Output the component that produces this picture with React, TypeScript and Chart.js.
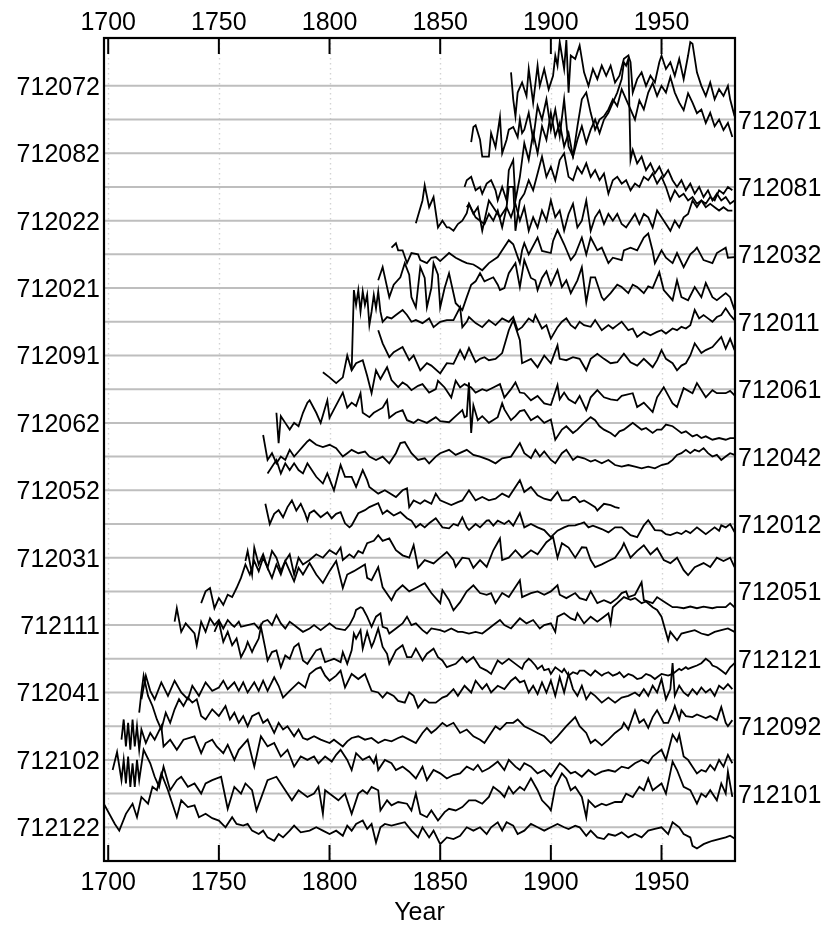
import { useEffect, useRef } from "react";
import { Chart, registerables } from "chart.js";
Chart.register(...registerables);

// Series ids, bottom (level 1) to top (level 23)
const seriesIds = ["712122","712101","712102","712092","712041","712121","712111","712051","712031","712012","712052","712042","712062","712061","712091","712011","712021","712032","712022","712081","712082","712071","712072"];
const yearTicks = [1700, 1750, 1800, 1850, 1900, 1950];
const yearRange = [1698.1, 1983.2];
const levelRange = [0, 24.42];

// [year, scaled ring width]
const s712122: number[][] = [[1698,0.7],[1703,0.1],[1705,-0.1],[1708,0.4],[1711,0.7],[1713,0.3],[1715,0.9],[1718,0.7],[1720,1.2],[1722,1.1],[1724,1.6],[1727,1.1],[1729,0.7],[1731,0.3],[1733,0.8],[1736,0.6],[1739,0.65],[1741,0.3],[1744,0.4],[1747,0.27],[1750,0.2],[1753,0.0],[1756,0.3],[1758,0.1],[1761,0.05],[1763,0.1],[1765,-0.1],[1768,-0.2],[1770,-0.1],[1772,-0.3],[1775,-0.4],[1777,-0.2],[1779,-0.3],[1782,-0.1],[1784,0.05],[1787,-0.15],[1791,-0.1],[1794,0.0],[1797,-0.1],[1800,-0.2],[1803,-0.1],[1806,-0.25],[1808,0.05],[1810,-0.1],[1812,0.1],[1815,0.2],[1817,-0.05],[1819,0.1],[1821,-0.45],[1823,0.0],[1825,0.1],[1828,0.05],[1831,0.1],[1834,0.15],[1837,-0.1],[1840,-0.3],[1842,0.0],[1845,-0.3],[1847,-0.1],[1850,-0.5],[1853,-0.3],[1856,-0.35],[1859,-0.25],[1862,0.0],[1865,-0.1],[1868,0.0],[1871,-0.2],[1873,0.0],[1876,0.15],[1878,-0.1],[1880,0.15],[1883,0.05],[1885,-0.2],[1888,-0.1],[1891,0.1],[1894,0.0],[1897,-0.1],[1900,0.0],[1903,0.1],[1906,0.0],[1908,-0.05],[1911,0.05],[1913,0.0],[1916,-0.25],[1918,-0.1],[1921,-0.3],[1924,-0.35],[1926,-0.2],[1929,-0.25],[1932,-0.15],[1935,-0.3],[1938,-0.2],[1941,-0.3],[1944,-0.1],[1947,-0.05],[1950,0.0],[1953,-0.2],[1955,0.15],[1958,0.0],[1960,-0.2],[1963,-0.3],[1964,-0.55],[1966,-0.63],[1969,-0.5],[1971,-0.45],[1973,-0.4],[1976,-0.35],[1979,-0.3],[1981,-0.25],[1983,-0.33]];
const s712101: number[][] = [[1702,0.7],[1704,1.23],[1706,0.4],[1707,1.0],[1708,0.3],[1709,1.1],[1710,0.2],[1711,0.9],[1712,0.2],[1713,1.0],[1714,0.4],[1716,1.3],[1719,0.9],[1721,0.5],[1723,0.2],[1725,0.8],[1728,0.1],[1731,0.4],[1733,0.5],[1736,0.2],[1739,0.3],[1742,0.0],[1744,0.3],[1747,0.4],[1751,0.5],[1754,-0.45],[1757,0.2],[1760,0.0],[1762,0.3],[1765,0.1],[1767,-0.5],[1772,0.4],[1776,0.5],[1780,0.1],[1783,-0.2],[1786,0.1],[1790,-0.1],[1793,0.0],[1795,0.2],[1797,-0.6],[1798,0.1],[1801,-0.05],[1804,-0.2],[1807,0.0],[1810,-0.6],[1813,0.0],[1815,0.1],[1817,0.0],[1819,0.2],[1822,0.1],[1823,-0.5],[1826,-0.2],[1828,-0.35],[1831,-0.25],[1835,-0.3],[1837,-0.5],[1839,0.0],[1841,-0.6],[1844,-0.7],[1846,-0.5],[1849,-0.8],[1852,-0.55],[1854,-0.45],[1857,-0.5],[1860,-0.4],[1863,-0.2],[1866,-0.2],[1869,-0.3],[1872,-0.1],[1874,0.2],[1877,0.05],[1879,-0.1],[1881,0.2],[1883,0.0],[1886,0.2],[1888,0.1],[1891,0.45],[1894,0.1],[1896,-0.2],[1899,-0.4],[1900,-0.5],[1902,0.2],[1905,0.6],[1907,0.45],[1909,0.1],[1911,0.2],[1914,-0.1],[1916,-0.7],[1917,-0.2],[1920,-0.4],[1923,-0.3],[1925,-0.35],[1929,-0.25],[1932,-0.25],[1934,0.0],[1937,-0.1],[1940,0.2],[1942,0.1],[1944,0.45],[1946,0.1],[1950,0.3],[1952,0.0],[1955,0.95],[1957,0.7],[1960,0.2],[1963,0.1],[1966,-0.3],[1968,0.0],[1970,-0.1],[1972,0.1],[1975,-0.2],[1977,0.3],[1979,0.0],[1980,0.65],[1982,-0.1]];
const s712102: number[][] = [[1706,0.6],[1707,1.2],[1708,0.4],[1709,1.1],[1710,0.3],[1711,1.2],[1712,0.4],[1713,1.0],[1714,0.3],[1715,0.9],[1717,0.5],[1719,0.8],[1721,0.6],[1724,1.0],[1725,0.4],[1728,0.6],[1731,0.3],[1734,0.6],[1739,0.7],[1742,0.2],[1744,0.5],[1747,0.6],[1749,0.4],[1752,0.2],[1754,0.45],[1757,0.0],[1759,0.3],[1763,0.6],[1766,-0.2],[1769,0.7],[1772,0.4],[1775,0.5],[1778,0.1],[1781,0.3],[1784,-0.2],[1787,0.1],[1790,0.0],[1793,0.1],[1795,-0.1],[1798,0.1],[1801,-0.05],[1803,0.15],[1805,0.3],[1808,0.0],[1810,-0.3],[1812,0.2],[1815,0.0],[1818,0.1],[1820,-0.1],[1821,0.1],[1822,-0.3],[1825,0.0],[1828,-0.1],[1830,-0.3],[1833,-0.2],[1836,-0.35],[1839,-0.55],[1842,-0.2],[1844,-0.6],[1847,-0.3],[1850,-0.4],[1853,-0.55],[1856,-0.45],[1859,-0.4],[1862,-0.2],[1865,-0.3],[1867,-0.15],[1869,-0.35],[1872,-0.25],[1874,-0.15],[1876,-0.05],[1879,-0.3],[1881,0.0],[1884,-0.2],[1886,-0.3],[1888,-0.1],[1891,-0.2],[1894,-0.4],[1897,-0.3],[1900,-0.5],[1902,-0.3],[1904,-0.1],[1906,-0.2],[1909,-0.4],[1911,-0.35],[1914,-0.5],[1917,-0.3],[1920,-0.45],[1923,-0.35],[1926,-0.3],[1929,-0.35],[1932,-0.2],[1935,-0.25],[1938,-0.1],[1941,0.0],[1944,-0.1],[1946,0.1],[1948,0.2],[1950,0.3],[1952,0.0],[1954,0.5],[1955,0.75],[1957,0.55],[1958,0.75],[1960,0.1],[1962,0.0],[1964,-0.2],[1966,-0.4],[1968,-0.3],[1970,-0.35],[1972,-0.15],[1974,-0.3],[1976,0.0],[1978,-0.2],[1980,0.15],[1982,-0.1]];
const s712092: number[][] = [[1714,0.4],[1715,1.0],[1716,1.5],[1718,0.9],[1720,0.6],[1722,0.2],[1724,-0.1],[1726,0.4],[1728,0.1],[1730,0.5],[1732,0.8],[1734,0.6],[1736,0.85],[1738,0.7],[1740,0.8],[1742,0.3],[1744,0.2],[1747,0.5],[1750,0.3],[1753,0.6],[1755,0.2],[1757,0.4],[1759,0.1],[1761,0.3],[1763,0.0],[1765,0.3],[1768,0.4],[1770,0.1],[1772,0.2],[1775,-0.2],[1777,0.1],[1779,-0.1],[1781,0.0],[1784,-0.3],[1786,-0.1],[1788,-0.35],[1790,-0.4],[1793,-0.3],[1796,-0.4],[1800,-0.5],[1802,-0.4],[1806,-0.6],[1808,-0.45],[1810,-0.35],[1813,-0.3],[1816,-0.4],[1819,-0.35],[1822,-0.5],[1825,-0.4],[1828,-0.45],[1831,-0.35],[1833,-0.3],[1836,-0.4],[1839,-0.5],[1842,-0.2],[1844,-0.05],[1846,-0.2],[1848,-0.1],[1851,0.1],[1853,0.0],[1856,0.1],[1859,-0.2],[1862,-0.1],[1865,-0.3],[1868,-0.4],[1870,-0.5],[1872,-0.3],[1875,0.0],[1877,-0.1],[1880,0.1],[1883,0.1],[1885,0.2],[1888,0.0],[1891,-0.1],[1894,-0.2],[1897,-0.3],[1900,-0.5],[1903,-0.3],[1907,0.0],[1911,0.27],[1913,0.0],[1916,-0.2],[1918,-0.5],[1920,-0.4],[1923,-0.57],[1926,-0.4],[1929,-0.2],[1932,-0.05],[1933,0.1],[1935,-0.1],[1938,0.47],[1940,0.1],[1942,0.2],[1944,-0.05],[1946,0.27],[1948,0.47],[1951,0.1],[1953,0.1],[1955,0.4],[1956,0.6],[1958,0.2],[1959,0.47],[1961,0.3],[1964,0.27],[1966,0.35],[1970,0.24],[1972,0.3],[1975,0.18],[1977,0.57],[1979,0.1],[1980,0.0],[1982,0.18]];
const s712041: number[][] = [[1715,-0.2],[1717,0.5],[1719,0.05],[1721,-0.2],[1724,0.3],[1727,-0.1],[1730,0.35],[1733,0.0],[1736,-0.2],[1738,0.2],[1741,-0.1],[1744,0.3],[1747,0.05],[1750,0.15],[1752,0.35],[1754,0.1],[1757,0.3],[1759,0.05],[1761,0.3],[1763,0.0],[1766,0.3],[1768,0.05],[1770,0.35],[1772,0.05],[1775,0.45],[1777,0.2],[1779,-0.15],[1782,0.05],[1786,0.3],[1789,0.15],[1791,0.55],[1794,0.7],[1796,0.75],[1798,0.5],[1800,0.35],[1803,0.5],[1805,0.65],[1807,0.15],[1810,0.55],[1813,0.4],[1816,0.55],[1819,0.05],[1822,0.0],[1824,-0.15],[1826,0.0],[1829,-0.1],[1831,-0.25],[1834,-0.3],[1836,0.0],[1838,-0.1],[1840,-0.45],[1843,-0.2],[1845,-0.3],[1848,-0.3],[1851,-0.15],[1853,-0.1],[1856,0.1],[1858,-0.1],[1861,0.2],[1864,0.0],[1866,0.35],[1869,0.1],[1871,0.25],[1873,0.0],[1876,0.2],[1879,0.1],[1882,0.35],[1884,0.45],[1886,0.3],[1888,0.35],[1890,0.0],[1892,0.2],[1894,-0.05],[1896,0.3],[1898,0.0],[1900,0.35],[1902,-0.1],[1904,0.45],[1906,0.0],[1908,0.55],[1910,0.1],[1912,-0.1],[1914,0.2],[1916,-0.2],[1918,0.0],[1920,-0.1],[1923,-0.3],[1926,-0.15],[1929,-0.3],[1932,-0.15],[1935,-0.1],[1938,0.0],[1940,-0.1],[1942,0.1],[1944,-0.1],[1946,0.2],[1948,0.0],[1950,0.4],[1952,-0.2],[1954,0.1],[1955,0.87],[1956,-0.1],[1958,0.2],[1960,0.0],[1962,-0.1],[1964,0.1],[1966,-0.05],[1968,0.15],[1970,0.0],[1972,0.1],[1974,-0.1],[1976,0.2],[1978,0.1],[1980,0.25],[1982,0.1]];
const s712121: number[][] = [[1748,0.8],[1750,1.1],[1752,0.5],[1754,0.8],[1756,0.4],[1758,0.6],[1760,0.05],[1762,0.3],[1763,0.5],[1765,0.2],[1766,0.35],[1768,0.6],[1769,0.95],[1771,0.3],[1772,-0.05],[1774,0.2],[1776,0.25],[1778,-0.25],[1780,0.1],[1782,0.0],[1784,0.35],[1786,0.45],[1788,-0.05],[1790,-0.15],[1794,0.25],[1796,0.3],[1798,-0.1],[1800,-0.05],[1802,0.0],[1805,-0.1],[1806,0.2],[1808,-0.15],[1810,0.25],[1811,0.75],[1812,0.6],[1814,0.85],[1815,0.3],[1817,0.8],[1819,0.35],[1820,0.5],[1822,0.9],[1824,0.35],[1826,0.15],[1827,-0.15],[1830,0.25],[1833,0.4],[1835,0.05],[1837,0.05],[1839,0.3],[1842,-0.05],[1844,0.15],[1847,0.3],[1849,0.05],[1851,-0.05],[1853,-0.25],[1857,-0.15],[1860,0.05],[1862,-0.1],[1865,0.05],[1868,-0.25],[1871,-0.35],[1873,-0.45],[1876,-0.05],[1878,-0.15],[1881,0.0],[1884,-0.15],[1887,-0.3],[1888,-0.13],[1890,0.0],[1891,-0.05],[1893,-0.2],[1894,-0.3],[1896,-0.2],[1897,-0.34],[1899,-0.3],[1900,-0.45],[1902,-0.25],[1903,-0.3],[1905,-0.4],[1906,-0.3],[1908,-0.5],[1910,-0.4],[1912,-0.45],[1913,-0.35],[1915,-0.35],[1917,-0.45],[1918,-0.5],[1920,-0.35],[1921,-0.4],[1923,-0.5],[1924,-0.45],[1926,-0.4],[1928,-0.5],[1930,-0.45],[1931,-0.4],[1933,-0.55],[1935,-0.45],[1937,-0.5],[1939,-0.6],[1941,-0.57],[1943,-0.45],[1945,-0.5],[1947,-0.6],[1948,-0.55],[1950,-0.45],[1953,-0.5],[1955,-0.45],[1956,-0.4],[1958,-0.3],[1959,-0.34],[1961,-0.25],[1962,-0.3],[1964,-0.25],[1966,-0.2],[1968,-0.13],[1970,0.0],[1972,-0.1],[1973,-0.2],[1975,-0.25],[1977,-0.35],[1979,-0.45],[1981,-0.25],[1983,-0.13]];
const s712111: number[][] = [[1730,0.1],[1731,0.5],[1733,-0.2],[1735,0.05],[1737,-0.1],[1739,-0.25],[1740,-0.6],[1742,0.1],[1744,-0.2],[1746,0.2],[1748,0.0],[1750,0.15],[1752,-0.1],[1754,0.15],[1756,0.0],[1757,-0.05],[1759,0.1],[1760,-0.05],[1763,0.0],[1766,0.05],[1768,-0.1],[1770,0.1],[1772,0.15],[1774,0.0],[1776,0.3],[1778,0.05],[1780,-0.1],[1782,0.1],[1784,0.0],[1786,-0.1],[1788,-0.2],[1791,-0.1],[1793,0.0],[1796,-0.15],[1800,0.05],[1803,-0.1],[1807,-0.15],[1809,0.0],[1811,0.25],[1812,0.45],[1814,0.53],[1815,0.5],[1817,0.25],[1819,-0.05],[1821,0.25],[1823,0.35],[1824,-0.05],[1826,-0.1],[1827,-0.25],[1830,-0.1],[1833,0.05],[1835,0.25],[1837,0.0],[1839,0.05],[1842,-0.15],[1844,-0.25],[1846,-0.1],[1850,-0.15],[1852,-0.2],[1855,-0.1],[1858,-0.2],[1860,-0.2],[1863,-0.25],[1866,-0.2],[1869,-0.25],[1872,-0.1],[1874,0.0],[1877,0.15],[1879,0.0],[1882,-0.1],[1886,0.2],[1887,0.15],[1889,0.05],[1892,0.15],[1895,-0.1],[1897,0.0],[1900,0.05],[1902,-0.2],[1903,0.25],[1906,0.35],[1909,0.2],[1911,0.15],[1912,0.35],[1915,0.05],[1918,0.25],[1921,0.1],[1924,0.25],[1926,0.35],[1927,0.05],[1928,0.53],[1930,0.65],[1933,0.83],[1936,0.75],[1938,0.8],[1941,0.65],[1943,0.7],[1946,0.53],[1948,0.45],[1950,0.25],[1953,-0.45],[1954,-0.2],[1957,-0.45],[1959,-0.25],[1962,-0.2],[1965,-0.15],[1968,-0.25],[1971,-0.3],[1974,-0.2],[1977,-0.15],[1980,-0.1],[1983,-0.2]];
const s712051: number[][] = [[1742,-0.35],[1744,0.0],[1746,0.1],[1748,-0.5],[1750,-0.2],[1752,-0.4],[1754,-0.1],[1756,-0.17],[1758,0.1],[1760,0.4],[1762,0.8],[1764,0.5],[1766,0.9],[1768,0.6],[1770,1.0],[1772,0.7],[1774,0.4],[1776,0.8],[1778,0.5],[1780,0.9],[1782,0.6],[1784,0.3],[1786,0.7],[1788,0.5],[1791,0.84],[1794,0.5],[1797,0.25],[1800,0.6],[1803,0.9],[1806,0.1],[1808,0.5],[1811,0.6],[1816,0.8],[1817,0.4],[1819,0.33],[1822,0.72],[1824,0.12],[1828,-0.26],[1830,0.0],[1833,0.18],[1836,0.0],[1839,0.1],[1843,0.24],[1846,-0.05],[1850,-0.35],[1851,0.04],[1854,-0.26],[1856,-0.56],[1859,-0.32],[1862,0.0],[1865,0.18],[1868,-0.05],[1871,-0.1],[1873,-0.05],[1875,-0.35],[1878,-0.05],[1881,-0.17],[1886,0.33],[1887,-0.17],[1891,-0.05],[1894,0.0],[1897,-0.1],[1900,0.0],[1903,0.18],[1904,-0.1],[1907,-0.2],[1911,-0.05],[1913,-0.2],[1916,-0.26],[1918,0.0],[1921,-0.35],[1924,-0.26],[1927,-0.35],[1930,-0.2],[1932,-0.05],[1934,0.0],[1935,-0.17],[1938,-0.1],[1941,0.27],[1942,-0.26],[1946,-0.35],[1948,-0.17],[1951,-0.3],[1955,-0.47],[1957,-0.47],[1960,-0.5],[1963,-0.45],[1966,-0.5],[1969,-0.45],[1973,-0.5],[1975,-0.47],[1979,-0.47],[1981,-0.35],[1983,-0.47]];
const s712031: number[][] = [[1762,-0.1],[1763,0.2],[1765,-0.5],[1766,0.3],[1768,-0.2],[1770,0.1],[1772,-0.3],[1774,0.2],[1776,0.0],[1778,-0.4],[1780,-0.1],[1782,0.1],[1784,-0.5],[1786,0.0],[1788,-0.2],[1791,-0.07],[1794,0.1],[1797,0.0],[1800,0.22],[1803,0.1],[1805,0.3],[1806,-0.07],[1809,0.1],[1811,0.0],[1813,0.2],[1815,0.13],[1817,0.43],[1820,0.5],[1822,0.67],[1824,0.5],[1827,0.57],[1830,0.22],[1833,0.07],[1836,0.0],[1838,0.37],[1840,-0.3],[1843,-0.07],[1847,-0.17],[1850,0.0],[1853,0.17],[1856,-0.07],[1857,-0.27],[1860,0.0],[1863,-0.03],[1865,-0.3],[1868,-0.07],[1871,-0.27],[1874,0.22],[1877,0.57],[1878,-0.07],[1881,0.0],[1884,0.22],[1887,0.0],[1891,0.22],[1894,0.1],[1896,0.28],[1898,0.46],[1901,0.61],[1903,0.0],[1905,0.43],[1908,0.3],[1911,0.0],[1914,0.31],[1916,0.3],[1918,-0.07],[1920,-0.28],[1923,-0.2],[1926,-0.1],[1929,0.0],[1932,0.28],[1933,0.43],[1936,0.0],[1939,0.2],[1942,0.37],[1945,0.1],[1948,0.28],[1951,-0.07],[1954,-0.16],[1957,0.0],[1960,-0.37],[1962,-0.52],[1965,-0.28],[1969,-0.16],[1972,-0.28],[1975,0.0],[1978,-0.1],[1981,0.0],[1983,-0.28]];
const s712012: number[][] = [[1771,0.6],[1773,0.0],[1775,0.3],[1777,0.41],[1779,0.2],[1781,0.5],[1783,0.7],[1785,0.4],[1787,0.6],[1789,0.3],[1790,0.1],[1791,0.32],[1793,0.4],[1796,0.2],[1799,0.35],[1801,0.17],[1803,0.3],[1805,0.35],[1807,0.02],[1809,-0.1],[1810,-0.04],[1812,0.2],[1813,0.32],[1816,0.41],[1818,0.5],[1822,0.62],[1824,0.3],[1826,0.4],[1829,0.25],[1832,0.35],[1835,0.17],[1837,0.1],[1839,-0.1],[1841,0.0],[1843,-0.1],[1845,0.02],[1848,0.17],[1851,-0.1],[1854,-0.13],[1856,0.0],[1858,-0.05],[1860,0.2],[1862,-0.1],[1863,-0.18],[1866,0.0],[1868,-0.1],[1871,0.1],[1872,0.11],[1874,-0.05],[1876,0.1],[1879,0.0],[1881,0.1],[1883,-0.05],[1886,0.32],[1888,-0.1],[1891,0.0],[1894,-0.1],[1897,-0.18],[1900,-0.39],[1903,-0.2],[1906,-0.1],[1908,-0.05],[1911,-0.04],[1913,0.0],[1915,0.05],[1917,-0.1],[1919,-0.05],[1921,-0.1],[1923,-0.15],[1926,-0.25],[1929,-0.1],[1932,-0.1],[1936,-0.33],[1939,-0.39],[1942,-0.04],[1944,0.11],[1947,-0.18],[1950,-0.2],[1952,-0.3],[1954,-0.33],[1957,-0.25],[1959,-0.3],[1961,-0.2],[1963,-0.27],[1966,-0.1],[1968,-0.2],[1970,-0.3],[1974,-0.1],[1976,-0.2],[1977,-0.04],[1979,-0.1],[1981,0.0],[1983,-0.24]];
const s712052: number[][] = [[1772,0.5],[1774,0.7],[1776,0.9],[1778,0.5],[1780,0.8],[1782,0.6],[1784,0.8],[1786,0.6],[1788,0.5],[1790,0.8],[1791,0.7],[1794,0.4],[1797,0.2],[1799,0.5],[1802,0.0],[1805,0.75],[1807,0.4],[1810,0.4],[1812,0.1],[1815,0.6],[1817,0.3],[1818,0.1],[1822,-0.1],[1825,0.0],[1830,-0.2],[1833,0.0],[1835,0.06],[1836,-0.5],[1838,-0.3],[1841,-0.4],[1843,-0.3],[1846,-0.4],[1848,-0.1],[1850,-0.3],[1855,-0.44],[1858,-0.35],[1860,-0.3],[1863,0.0],[1866,-0.3],[1869,-0.2],[1872,-0.3],[1875,-0.25],[1878,-0.1],[1881,-0.2],[1886,0.3],[1888,-0.05],[1891,0.1],[1894,-0.15],[1897,-0.25],[1900,-0.3],[1903,-0.05],[1905,-0.3],[1908,-0.3],[1910,-0.2],[1911,-0.2],[1913,-0.35],[1915,-0.3],[1917,-0.38],[1920,-0.5],[1921,-0.6],[1924,-0.4],[1927,-0.44],[1929,-0.5],[1931,-0.53]];
const s712042: number[][] = [[1770,0.64],[1772,-0.1],[1774,0.1],[1776,-0.2],[1778,0.0],[1780,-0.1],[1782,0.2],[1784,0.0],[1786,0.15],[1788,0.3],[1790,0.45],[1791,0.5],[1794,0.35],[1797,0.28],[1800,0.35],[1803,0.25],[1806,0.0],[1808,0.1],[1810,0.2],[1813,0.1],[1816,0.15],[1818,0.0],[1821,-0.1],[1824,0.0],[1827,-0.2],[1830,0.1],[1832,0.4],[1834,0.43],[1837,0.1],[1840,-0.1],[1843,-0.05],[1845,-0.2],[1848,0.0],[1850,0.1],[1854,0.2],[1857,0.05],[1862,0.2],[1865,0.05],[1868,0.0],[1872,-0.1],[1875,-0.2],[1878,-0.05],[1882,0.0],[1886,0.4],[1888,0.1],[1891,-0.05],[1893,0.2],[1895,0.0],[1897,0.15],[1900,-0.1],[1902,-0.2],[1905,0.1],[1907,0.2],[1910,-0.1],[1912,0.0],[1915,-0.05],[1918,-0.15],[1920,-0.1],[1923,-0.2],[1926,-0.1],[1929,-0.25],[1932,-0.3],[1935,-0.25],[1938,-0.3],[1941,-0.35],[1944,-0.3],[1947,-0.35],[1950,-0.25],[1953,-0.2],[1955,-0.1],[1957,0.05],[1959,0.1],[1961,0.2],[1963,0.1],[1965,0.2],[1967,0.15],[1969,0.25],[1971,0.1],[1973,0.0],[1975,0.05],[1977,-0.1],[1979,0.0],[1981,0.1],[1983,0.05]];
const s712062: number[][] = [[1776,0.3],[1777,-0.6],[1778,0.2],[1780,0.0],[1782,-0.2],[1784,0.0],[1786,-0.1],[1788,0.3],[1790,0.6],[1791,0.67],[1794,0.3],[1796,0.0],[1799,0.67],[1800,0.15],[1802,0.4],[1806,0.9],[1808,0.45],[1810,0.6],[1812,0.5],[1814,0.88],[1815,0.3],[1818,0.17],[1820,0.3],[1824,0.45],[1826,0.67],[1827,0.15],[1830,0.3],[1833,0.38],[1835,0.08],[1838,0.0],[1840,0.1],[1844,0.0],[1848,0.17],[1850,0.05],[1854,0.02],[1857,0.2],[1860,0.38],[1861,0.17],[1862,0.2],[1863,1.2],[1864,-0.3],[1865,0.52],[1867,0.08],[1869,0.2],[1872,0.0],[1876,0.17],[1878,0.58],[1879,0.4],[1882,0.08],[1884,0.2],[1886,0.35],[1888,0.38],[1891,0.08],[1894,0.2],[1897,0.0],[1900,0.1],[1902,-0.5],[1905,-0.2],[1907,-0.1],[1910,-0.3],[1912,-0.2],[1915,0.0],[1918,0.17],[1920,0.08],[1922,-0.1],[1924,-0.2],[1927,-0.3],[1929,-0.4],[1931,-0.25],[1933,-0.2],[1935,-0.1],[1937,0.0],[1939,-0.1],[1941,-0.2],[1943,-0.15],[1946,-0.3],[1948,-0.2],[1950,-0.2],[1952,-0.05],[1955,-0.1],[1957,-0.2],[1959,-0.3],[1961,-0.25],[1964,-0.4],[1966,-0.35],[1968,-0.45],[1970,-0.4],[1973,-0.5],[1976,-0.45],[1979,-0.5],[1981,-0.45],[1983,-0.45]];
const s712061: number[][] = [[1797,0.5],[1800,0.35],[1803,0.18],[1806,0.35],[1808,1.0],[1810,0.56],[1812,0.77],[1815,0.86],[1817,0.4],[1819,-0.12],[1821,0.56],[1823,0.3],[1826,0.65],[1828,0.27],[1831,0.06],[1833,0.2],[1835,0.12],[1837,-0.03],[1840,0.1],[1842,0.15],[1845,-0.1],[1848,0.0],[1849,0.25],[1852,0.05],[1855,-0.25],[1857,0.25],[1859,0.05],[1861,0.15],[1864,0.05],[1866,-0.1],[1869,0.0],[1871,-0.05],[1874,0.05],[1877,0.15],[1879,-0.25],[1882,0.0],[1884,0.2],[1886,-0.1],[1888,-0.12],[1891,-0.33],[1894,-0.2],[1897,-0.42],[1900,-0.47],[1903,0.12],[1904,-0.3],[1906,-0.1],[1908,-0.3],[1911,-0.42],[1913,-0.2],[1916,-0.62],[1918,-0.24],[1921,-0.03],[1924,-0.24],[1927,-0.3],[1930,-0.33],[1932,-0.2],[1937,-0.12],[1939,-0.53],[1942,-0.4],[1946,-0.68],[1948,-0.24],[1951,0.06],[1955,-0.42],[1957,-0.53],[1960,0.03],[1964,-0.12],[1966,0.18],[1970,-0.24],[1973,-0.03],[1975,-0.12],[1979,-0.12],[1981,-0.05],[1983,-0.18]];
const s712091: number[][] = [[1822,0.75],[1824,0.36],[1827,-0.05],[1829,0.1],[1833,0.25],[1836,-0.14],[1838,0.0],[1841,-0.44],[1844,-0.23],[1846,-0.3],[1850,-0.53],[1853,-0.23],[1856,-0.25],[1859,0.16],[1861,-0.1],[1863,0.22],[1866,-0.2],[1868,-0.1],[1870,-0.05],[1872,-0.14],[1875,-0.1],[1878,0.07],[1881,0.75],[1883,1.05],[1886,0.45],[1887,-0.23],[1891,-0.1],[1894,-0.35],[1897,0.0],[1900,-0.23],[1903,0.3],[1904,-0.1],[1907,-0.14],[1910,-0.05],[1913,-0.1],[1916,-0.44],[1918,-0.1],[1921,0.05],[1924,-0.1],[1927,-0.23],[1930,-0.2],[1933,0.05],[1936,-0.2],[1939,-0.3],[1942,-0.1],[1946,-0.35],[1948,-0.14],[1950,0.16],[1952,-0.1],[1955,-0.23],[1957,-0.44],[1959,-0.3],[1961,-0.23],[1963,0.0],[1965,0.36],[1968,0.07],[1970,0.16],[1973,0.25],[1977,0.55],[1979,0.2],[1981,0.5],[1983,0.16]];
const s712011: number[][] = [[1810,-1.44],[1811,0.94],[1812,0.5],[1813,0.94],[1814,0.3],[1815,0.9],[1816,0.5],[1817,0.8],[1818,-0.1],[1819,0.3],[1820,0.8],[1821,0.4],[1822,0.9],[1823,0.3],[1824,0.0],[1826,0.14],[1828,0.1],[1830,0.2],[1833,0.35],[1835,0.2],[1837,0.0],[1839,0.05],[1842,-0.04],[1845,0.1],[1847,-0.16],[1850,0.0],[1853,0.05],[1856,0.05],[1859,0.43],[1860,-0.16],[1862,0.0],[1863,0.14],[1866,-0.04],[1869,-0.16],[1872,0.05],[1875,-0.1],[1878,0.1],[1881,0.0],[1883,0.14],[1885,-0.25],[1887,-0.16],[1890,0.1],[1892,0.0],[1893,0.2],[1896,-0.2],[1898,-0.1],[1900,-0.5],[1903,-0.16],[1905,0.0],[1907,0.1],[1909,-0.1],[1911,-0.2],[1913,0.0],[1915,-0.1],[1918,-0.15],[1920,0.05],[1923,-0.25],[1926,-0.1],[1928,-0.2],[1930,-0.1],[1932,0.0],[1935,-0.25],[1937,-0.2],[1939,-0.45],[1942,-0.3],[1945,-0.4],[1948,-0.3],[1950,-0.25],[1952,-0.35],[1955,-0.2],[1957,-0.25],[1959,-0.15],[1961,-0.2],[1963,-0.1],[1965,0.35],[1967,0.1],[1969,0.2],[1971,0.1],[1973,0.0],[1975,0.14],[1977,0.2],[1979,0.4],[1981,0.2],[1983,0.05]];
const s712021: number[][] = [[1822,0.23],[1824,0.62],[1827,-0.27],[1829,0.1],[1832,0.32],[1834,0.74],[1836,0.4],[1837,-0.27],[1839,-0.57],[1841,0.62],[1843,0.3],[1844,-0.57],[1846,0.0],[1847,0.74],[1849,0.4],[1850,-0.57],[1852,0.0],[1854,0.44],[1857,-0.45],[1860,-0.65],[1862,-0.27],[1864,0.1],[1866,0.2],[1868,0.44],[1870,0.2],[1874,0.32],[1876,0.1],[1877,-0.06],[1879,0.0],[1881,0.44],[1884,0.74],[1886,0.03],[1888,0.83],[1891,0.3],[1893,0.23],[1894,-0.06],[1896,0.3],[1898,0.5],[1900,0.09],[1903,0.53],[1905,0.03],[1907,0.23],[1909,-0.15],[1912,0.23],[1914,0.62],[1916,-0.42],[1918,0.32],[1920,0.32],[1923,-0.27],[1924,-0.36],[1927,-0.15],[1930,0.1],[1932,0.03],[1935,-0.15],[1937,0.1],[1939,0.03],[1942,-0.15],[1944,0.05],[1946,0.0],[1949,0.47],[1951,-0.06],[1955,-0.36],[1957,0.23],[1959,-0.27],[1962,-0.36],[1965,0.03],[1968,-0.27],[1970,0.15],[1973,-0.27],[1975,-0.36],[1979,-0.15],[1981,-0.27],[1983,-0.65]];
const s712032: number[][] = [[1828,0.2],[1830,0.33],[1831,0.12],[1833,0.12],[1835,-0.26],[1837,0.04],[1840,0.0],[1841,-0.17],[1844,-0.26],[1846,-0.1],[1848,-0.08],[1850,-0.2],[1854,0.04],[1857,-0.1],[1860,-0.2],[1862,-0.26],[1865,-0.3],[1867,-0.38],[1869,-0.47],[1872,-0.26],[1876,-0.08],[1878,0.12],[1881,0.42],[1883,0.3],[1886,-0.26],[1887,0.12],[1888,0.33],[1890,0.0],[1894,0.5],[1896,0.1],[1900,0.04],[1901,0.4],[1903,0.72],[1906,0.3],[1909,-0.17],[1911,0.0],[1914,0.5],[1916,0.0],[1918,0.5],[1921,0.12],[1923,0.2],[1926,-0.26],[1928,-0.1],[1932,-0.17],[1933,0.12],[1936,0.2],[1939,0.12],[1942,0.5],[1944,0.62],[1946,0.1],[1947,-0.26],[1950,0.12],[1952,-0.1],[1955,-0.26],[1957,0.04],[1960,-0.38],[1963,0.0],[1965,0.12],[1966,0.2],[1969,-0.17],[1973,-0.26],[1975,0.04],[1979,0.2],[1980,-0.1],[1983,-0.08]];
const s712022: number[][] = [[1839,-0.08],[1842,0.6],[1843,1.05],[1845,0.4],[1847,0.7],[1849,-0.2],[1851,0.0],[1853,-0.2],[1854,-0.2],[1856,-0.3],[1858,-0.1],[1860,0.0],[1862,0.22],[1863,0.5],[1866,0.1],[1868,0.0],[1870,-0.1],[1872,0.2],[1874,0.0],[1876,0.3],[1878,-0.2],[1880,0.4],[1882,0.1],[1884,0.5],[1886,0.0],[1888,0.4],[1890,-0.3],[1892,0.1],[1894,-0.2],[1896,0.3],[1898,0.0],[1900,0.6],[1902,0.1],[1904,0.3],[1906,-0.3],[1908,0.2],[1910,0.5],[1912,-0.2],[1914,0.0],[1916,0.6],[1918,-0.3],[1920,0.1],[1922,0.3],[1924,-0.1],[1926,0.2],[1928,0.0],[1930,0.2],[1932,-0.1],[1934,-0.2],[1936,0.0],[1938,0.2],[1940,-0.1],[1942,0.2],[1944,0.1],[1946,-0.2],[1948,0.3],[1950,0.1],[1952,-0.1],[1954,-0.3],[1956,0.0],[1958,-0.2],[1960,0.1],[1962,0.2],[1964,0.6],[1966,0.4],[1968,0.6],[1970,0.5],[1972,0.7],[1974,0.6],[1976,0.9],[1978,0.8],[1980,1.0],[1982,0.9]];
const s712081: number[][] = [[1862,-0.6],[1863,-0.5],[1865,-0.8],[1867,-0.6],[1869,-1.3],[1872,-0.4],[1874,-0.6],[1877,-0.9],[1880,-0.6],[1881,0.0],[1883,0.0],[1884,-1.3],[1886,-0.4],[1888,-0.2],[1890,0.2],[1892,-0.1],[1894,0.4],[1896,0.9],[1898,0.3],[1900,0.6],[1902,0.2],[1904,0.8],[1906,1.0],[1908,0.3],[1910,0.2],[1912,0.6],[1914,0.4],[1916,0.7],[1918,0.3],[1920,0.5],[1922,0.2],[1924,0.4],[1926,-0.2],[1928,0.2],[1930,0.3],[1932,0.1],[1934,0.2],[1936,-0.1],[1938,0.1],[1940,0.0],[1942,0.3],[1944,0.2],[1946,0.4],[1948,0.1],[1950,0.3],[1952,0.0],[1954,-0.4],[1956,-0.1],[1958,-0.3],[1960,-0.2],[1962,-0.4],[1964,-0.3],[1966,-0.5],[1968,-0.4],[1970,-0.6],[1972,-0.5],[1974,-0.6],[1976,-0.7],[1978,-0.6],[1980,-0.7],[1982,-0.7]];
const s712082: number[][] = [[1861,-1.0],[1862,-0.8],[1864,-0.7],[1866,-1.1],[1868,-1.0],[1869,-1.2],[1871,-0.9],[1873,-0.8],[1875,-1.1],[1876,-1.4],[1878,-1.0],[1880,-1.4],[1881,-0.5],[1883,-0.2],[1884,-1.4],[1886,-0.7],[1887,-0.2],[1888,0.3],[1890,-0.2],[1892,0.6],[1894,0.0],[1896,0.8],[1898,0.4],[1900,1.2],[1902,0.5],[1904,0.9],[1906,0.2],[1908,0.6],[1910,-0.1],[1912,0.4],[1914,0.8],[1916,0.3],[1918,0.7],[1920,1.0],[1922,0.6],[1924,1.0],[1926,1.2],[1928,1.5],[1930,1.8],[1932,2.2],[1933,2.7],[1934,2.6],[1935,2.8],[1936,-0.2],[1937,0.1],[1939,-0.3],[1941,-0.1],[1943,-0.5],[1945,-0.3],[1947,-0.6],[1949,-0.4],[1951,-0.7],[1953,-0.5],[1955,-0.8],[1957,-1.0],[1959,-0.8],[1961,-1.1],[1963,-0.9],[1965,-1.2],[1967,-1.0],[1969,-1.3],[1971,-1.1],[1973,-1.4],[1975,-1.2],[1977,-1.4],[1979,-1.3],[1981,-1.5],[1983,-1.4]];
const s712071: number[][] = [[1864,-0.67],[1865,-0.22],[1866,-0.17],[1868,-0.6],[1869,-1.1],[1872,-1.1],[1873,-0.4],[1875,-0.82],[1877,0.07],[1878,-1.0],[1880,-0.6],[1881,-0.3],[1883,-0.22],[1885,-0.52],[1886,0.0],[1887,-0.4],[1888,-0.3],[1890,0.2],[1892,-0.6],[1894,0.4],[1896,0.0],[1898,0.6],[1900,-0.3],[1902,0.3],[1904,-0.5],[1906,0.6],[1908,-0.8],[1910,-1.1],[1912,-0.2],[1914,0.6],[1916,0.8],[1918,0.2],[1920,-0.3],[1922,0.0],[1924,0.1],[1926,0.3],[1928,0.6],[1930,0.4],[1932,0.9],[1934,0.6],[1936,0.3],[1938,0.0],[1940,0.57],[1942,0.3],[1944,0.8],[1946,1.08],[1948,0.7],[1950,1.0],[1952,0.8],[1954,1.26],[1956,0.8],[1958,0.5],[1960,0.28],[1962,0.78],[1964,0.5],[1966,0.19],[1968,0.3],[1970,-0.1],[1972,0.2],[1974,-0.2],[1976,0.0],[1978,-0.31],[1980,-0.1],[1982,-0.52]];
const s712072: number[][] = [[1882,0.4],[1883,-0.4],[1884,-0.9],[1885,-0.2],[1887,0.1],[1889,-0.3],[1890,0.5],[1892,-0.5],[1894,0.6],[1895,0.0],[1897,0.5],[1899,-0.1],[1901,0.3],[1902,0.9],[1903,0.6],[1904,1.3],[1906,0.5],[1907,1.36],[1908,-0.2],[1909,0.9],[1911,0.8],[1913,1.2],[1915,0.4],[1917,0.0],[1919,0.5],[1921,0.2],[1923,0.6],[1925,0.3],[1927,0.6],[1929,0.1],[1931,0.3],[1933,0.8],[1935,0.9],[1936,0.7],[1937,-0.2],[1939,0.2],[1941,0.4],[1943,0.0],[1945,0.3],[1947,0.1],[1949,0.7],[1950,0.9],[1952,0.5],[1954,0.7],[1956,0.3],[1958,0.8],[1960,0.2],[1962,0.9],[1963,1.3],[1964,1.25],[1966,0.4],[1968,0.0],[1970,-0.3],[1972,0.1],[1974,-0.4],[1976,-0.1],[1978,-0.3],[1980,0.0],[1981,-0.4],[1983,-0.9]];

const seriesValues = [s712122,s712101,s712102,s712092,s712041,s712121,s712111,s712051,s712031,s712012,s712052,s712042,s712062,s712061,s712091,s712011,s712021,s712032,s712022,s712081,s712082,s712071,s712072];

const FONT = '25px "Liberation Sans", Arial, Helvetica, sans-serif';

export default function App() {
  const ref = useRef<HTMLCanvasElement>(null);
  useEffect(() => {
    if (!ref.current) return;
    const datasets = seriesValues.map((pts, i) => ({
      label: seriesIds[i],
      data: pts.map(([yr, v]) => ({ x: yr, y: v + i + 1 })),
      borderColor: "#000000",
      borderWidth: 1.8,
      pointRadius: 0,
      fill: false,
      tension: 0,
      spanGaps: false,
    }));
    const rAxes = {
      id: "rAxes",
      beforeDatasetsDraw(chart: any) {
        const { ctx, chartArea: a, scales } = chart;
        const xs = scales.x, ys = scales.y;
        ctx.save();
        ctx.strokeStyle = "#d3d3d3";
        ctx.lineWidth = 1.4;
        ctx.setLineDash([1.5, 3.5]);
        yearTicks.forEach((t) => {
          const px = Math.round(xs.getPixelForValue(t)) + 0.5;
          ctx.beginPath(); ctx.moveTo(px, a.top); ctx.lineTo(px, a.bottom); ctx.stroke();
        });
        ctx.setLineDash([]);
        ctx.strokeStyle = "#bebebe";
        ctx.lineWidth = 2;
        seriesIds.forEach((_, i) => {
          const py = ys.getPixelForValue(i + 1);
          ctx.beginPath(); ctx.moveTo(a.left, py); ctx.lineTo(a.right, py); ctx.stroke();
        });
        ctx.restore();
      },
      afterDatasetsDraw(chart: any) {
        const { ctx, chartArea: a, scales } = chart;
        const xs = scales.x, ys = scales.y;
        ctx.save();
        ctx.strokeStyle = "#000";
        ctx.lineWidth = 2.2;
        ctx.strokeRect(a.left, a.top, a.right - a.left, a.bottom - a.top);
        ctx.lineWidth = 2;
        yearTicks.forEach((t) => {
          const px = xs.getPixelForValue(t);
          ctx.beginPath(); ctx.moveTo(px, a.bottom); ctx.lineTo(px, a.bottom - 16); ctx.stroke();
          ctx.beginPath(); ctx.moveTo(px, a.top); ctx.lineTo(px, a.top + 16); ctx.stroke();
        });
        ctx.fillStyle = "#000";
        ctx.font = FONT;
        ctx.textBaseline = "alphabetic";
        ctx.textAlign = "center";
        yearTicks.forEach((t) => {
          const px = xs.getPixelForValue(t);
          ctx.fillText(String(t), px, 29.5);
          ctx.fillText(String(t), px, 890);
        });
        ctx.fillText("Year", (a.left + a.right) / 2, 920);
        seriesIds.forEach((id, i) => {
          const py = ys.getPixelForValue(i + 1) + 9;
          if (i % 2 === 0) {
            ctx.textAlign = "right";
            ctx.fillText(id, 100, py);
          } else {
            ctx.textAlign = "left";
            ctx.fillText(id, 738, py);
          }
        });
        ctx.restore();
      },
    };
    const chart = new Chart(ref.current, {
      type: "line",
      data: { datasets },
      options: {
        responsive: false,
        animation: false,
        events: [],
        layout: { padding: { left: 104, right: 94, top: 38, bottom: 64 } },
        plugins: { legend: { display: false }, tooltip: { enabled: false }, title: { display: false } },
        scales: {
          x: { type: "linear", min: yearRange[0], max: yearRange[1], display: false },
          y: { type: "linear", min: levelRange[0], max: levelRange[1], display: false },
        },
      },
      plugins: [rAxes],
    } as any);
    return () => chart.destroy();
  }, []);
  return (
    <div style={{ position: "absolute", left: 0, top: 0, width: 829, height: 925, background: "#ffffff" }}>
      <canvas ref={ref} width={829} height={925} style={{ display: "block", width: 829, height: 925 }} />
    </div>
  );
}
